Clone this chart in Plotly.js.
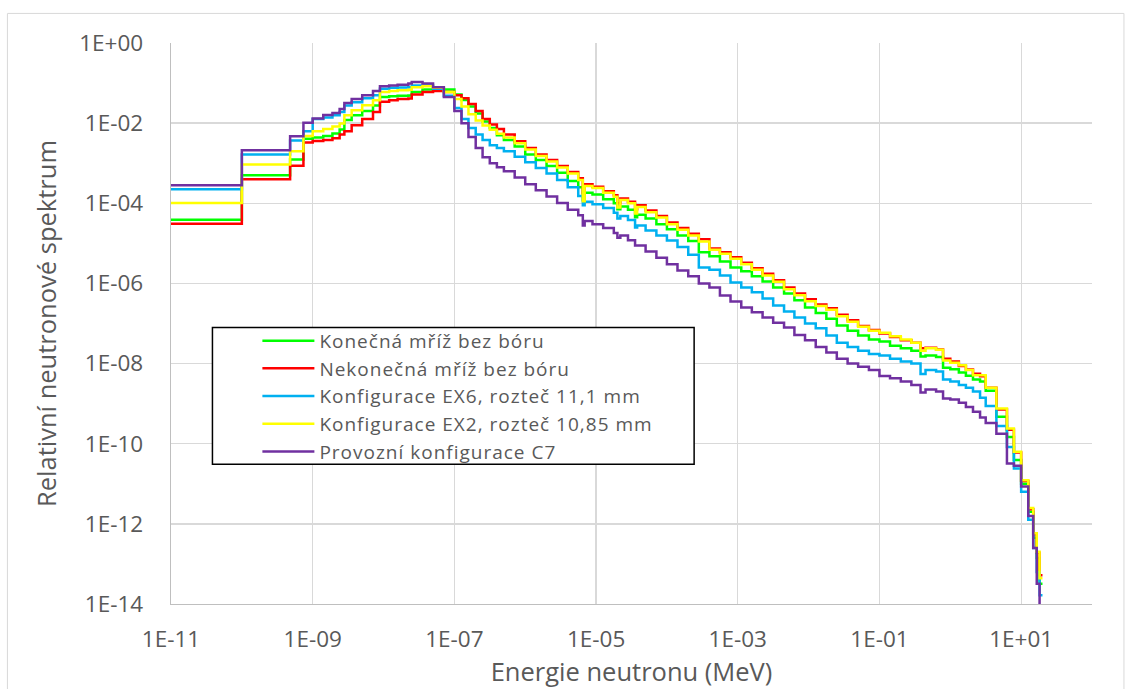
<!DOCTYPE html>
<html>
<head>
<meta charset="utf-8">
<script src="https://cdn.plot.ly/plotly-3.0.1.min.js"></script>
<style>html,body{margin:0;padding:0;background:#fff;}#chart{width:1131px;height:689px;}
.legendtext{letter-spacing:1px;}</style>
</head>
<body>
<div id="chart"></div>
<script>
// Energy group boundaries (MeV)
const energy = [1e-11,1e-10,4.8e-10,7.4e-10,1e-9,1.41e-9,1.9e-9,2.4e-9,2.8e-9,3.55e-9,
  5.0e-9,7.1e-9,8.9e-9,1.2e-8,1.58e-8,2.24e-8,2.5e-8,3.55e-8,5.0e-8,7.1e-8,
  1e-7,1.26e-7,1.58e-7,2.0e-7,2.5e-7,3.16e-7,3.98e-7,5.0e-7,7.1e-7,1e-6,
  1.41e-6,2.0e-6,2.82e-6,3.98e-6,5.6e-6,6.5e-6,6.9e-6,8.9e-6,1.26e-5,1.78e-5,
  2.0e-5,2.2e-5,2.82e-5,3.55e-5,3.8e-5,5.0e-5,7.1e-5,1e-4,1.41e-4,2.0e-4,
  2.82e-4,3.98e-4,5.6e-4,7.9e-4,1.12e-3,1.58e-3,2.24e-3,3.16e-3,4.5e-3,6.3e-3,
  8.9e-3,1.26e-2,1.78e-2,2.5e-2,3.55e-2,5.0e-2,7.1e-2,0.1,0.141,0.2,
  0.282,0.38,0.447,0.63,0.79,1,1.32,1.66,2.09,2.63,
  3.16,4.47,6.3,7.9,10,12.6,14.8,16.6,18.2,20];

const konecna = [3.9e-5,5.0e-4,1.23e-3,4.1e-3,4.4e-3,4.8e-3,5.5e-3,6.9e-3,1.2e-2,1.58e-2,
  2.0e-2,2.75e-2,4.5e-2,4.7e-2,4.8e-2,4.9e-2,6.0e-2,6.9e-2,7.2e-2,6.9e-2,
  5.2e-2,3.8e-2,2.6e-2,1.74e-2,1.1e-2,7.6e-3,5.0e-3,3.8e-3,2.6e-3,1.66e-3,
  1.2e-3,8.5e-4,5.8e-4,3.6e-4,2.5e-4,1.2e-4,1.82e-4,1.66e-4,1.26e-4,1.0e-4,
  7.1e-5,8.3e-5,6.9e-5,4.5e-5,5.2e-5,4.2e-5,3.0e-5,2.24e-5,1.58e-5,1.15e-5,
  6.0e-6,4.8e-6,3.55e-6,2.5e-6,2.0e-6,1.51e-6,1.12e-6,7.9e-7,5.6e-7,3.8e-7,
  2.5e-7,1.82e-7,1.32e-7,8.9e-8,6.6e-8,5.0e-8,4.0e-8,3.55e-8,2.8e-8,2.4e-8,
  2.1e-8,1.51e-8,1.58e-8,1.45e-8,7.9e-9,7.2e-9,6.0e-9,5.0e-9,4.0e-9,3.55e-9,
  2.1e-9,4.7e-10,1.48e-10,3.9e-11,1.0e-11,2.0e-12,4.5e-13,1.41e-13,3.2e-14,3.2e-14];

const nekonecna = [3.1e-5,4.0e-4,8.7e-4,3.3e-3,3.6e-3,3.8e-3,4.2e-3,5.2e-3,6.3e-3,8.9e-3,
  1.26e-2,1.9e-2,3.4e-2,3.7e-2,4.0e-2,4.1e-2,5.2e-2,6.0e-2,6.3e-2,6.0e-2,
  5.0e-2,4.2e-2,3.0e-2,2.0e-2,1.26e-2,9.3e-3,7.1e-3,5.2e-3,3.55e-3,2.4e-3,
  1.66e-3,1.2e-3,8.5e-4,6.0e-4,4.2e-4,1.78e-4,3.0e-4,2.6e-4,2.0e-4,1.58e-4,
  1.0e-4,1.32e-4,1.1e-4,7.1e-5,8.9e-5,6.6e-5,4.8e-5,3.3e-5,2.4e-5,1.74e-5,
  1.26e-5,7.4e-6,6.0e-6,4.5e-6,3.3e-6,2.4e-6,1.74e-6,1.2e-6,7.9e-7,5.6e-7,
  4.0e-7,3.0e-7,2.4e-7,1.66e-7,1.2e-7,8.7e-8,6.9e-8,5.6e-8,4.6e-8,3.8e-8,
  3.3e-8,2.4e-8,2.5e-8,2.24e-8,1.32e-8,1.12e-8,8.7e-9,7.1e-9,5.6e-9,4.8e-9,
  2.5e-9,7.1e-10,2.24e-10,6.0e-11,1.17e-11,2.3e-12,5.5e-13,1.9e-13,5.2e-14,5.2e-14];

const ex6 = [2.24e-4,1.66e-3,3.7e-3,6.3e-3,1.26e-2,1.38e-2,1.58e-2,1.9e-2,2.75e-2,3.3e-2,
  4.2e-2,5.0e-2,7.2e-2,7.6e-2,7.8e-2,7.9e-2,8.7e-2,8.7e-2,7.2e-2,4.8e-2,
  2.4e-2,1.26e-2,7.6e-3,5.2e-3,3.8e-3,2.8e-3,2.4e-3,2.0e-3,1.45e-3,1.05e-3,
  7.6e-4,5.5e-4,3.8e-4,2.5e-4,1.51e-4,8.9e-5,1.1e-4,9.5e-5,7.6e-5,5.8e-5,
  4.2e-5,4.8e-5,3.8e-5,2.5e-5,2.8e-5,2.1e-5,1.58e-5,1.17e-5,8.1e-6,5.2e-6,
  2.5e-6,2.2e-6,1.58e-6,1.05e-6,7.9e-7,6.0e-7,4.2e-7,2.8e-7,2.0e-7,1.41e-7,
  1.0e-7,7.6e-8,5.0e-8,3.3e-8,2.6e-8,2.1e-8,1.74e-8,1.58e-8,1.32e-8,1.12e-8,
  1.0e-8,5.5e-9,6.9e-9,6.3e-9,4.0e-9,3.55e-9,2.9e-9,2.5e-9,2.0e-9,1.41e-9,
  8.7e-10,2.75e-10,8.3e-11,2.4e-11,6.3e-12,1.26e-12,2.5e-13,6.3e-14,1.66e-14,1.66e-14];

const ex2 = [1.02e-4,9.3e-4,2.0e-3,4.8e-3,6.3e-3,7.1e-3,8.3e-3,9.8e-3,1.58e-2,2.1e-2,
  2.8e-2,3.7e-2,6.0e-2,6.3e-2,6.6e-2,6.8e-2,7.9e-2,8.3e-2,7.6e-2,6.0e-2,
  4.0e-2,2.6e-2,1.66e-2,1.17e-2,8.7e-3,6.8e-3,5.4e-3,4.4e-3,3.16e-3,2.2e-3,
  1.51e-3,1.1e-3,7.8e-4,5.5e-4,3.8e-4,1.12e-4,2.7e-4,2.4e-4,1.82e-4,1.45e-4,
  7.9e-5,1.2e-4,1.0e-4,5.6e-5,8.1e-5,6.0e-5,4.4e-5,3.0e-5,2.2e-5,1.58e-5,
  1.12e-5,6.9e-6,5.5e-6,4.1e-6,3.0e-6,2.2e-6,1.58e-6,1.1e-6,7.2e-7,5.1e-7,
  3.6e-7,2.75e-7,2.2e-7,1.51e-7,1.1e-7,8.3e-8,6.6e-8,5.9e-8,4.8e-8,4.0e-8,
  3.3e-8,2.1e-8,2.4e-8,2.2e-8,1.2e-8,1.05e-8,9.1e-9,6.9e-9,5.1e-9,5.1e-9,
  2.5e-9,7.6e-10,2.4e-10,6.3e-11,1.23e-11,2.5e-12,5.8e-13,2.0e-13,4.4e-14,4.4e-14];

const c7 = [2.8e-4,2.1e-3,4.7e-3,1.02e-2,1.3e-2,1.6e-2,1.78e-2,2.24e-2,3.16e-2,3.98e-2,
  5.0e-2,6.3e-2,8.3e-2,8.7e-2,9.1e-2,9.8e-2,0.107,9.8e-2,7.9e-2,4.5e-2,
  2.0e-2,1.0e-2,4.5e-3,2.4e-3,1.41e-3,1.0e-3,7.9e-4,6.3e-4,4.4e-4,3.0e-4,
  2.1e-4,1.48e-4,1.02e-4,6.9e-5,5.0e-5,2.8e-5,3.6e-5,3.0e-5,2.4e-5,1.82e-5,
  1.38e-5,1.58e-5,1.2e-5,8.9e-6,8.9e-6,6.3e-6,4.4e-6,3.0e-6,2.1e-6,1.51e-6,
  1.0e-6,7.9e-7,5.0e-7,3.55e-7,2.5e-7,1.9e-7,1.41e-7,1.05e-7,7.9e-8,5.2e-8,
  3.8e-8,2.6e-8,1.9e-8,1.32e-8,1.0e-8,8.3e-9,6.9e-9,4.9e-9,4.3e-9,3.55e-9,
  2.9e-9,1.9e-9,2.24e-9,2.0e-9,1.35e-9,1.26e-9,1.05e-9,8.3e-10,6.3e-10,4.5e-10,
  3.3e-10,1.78e-10,3.2e-11,2.8e-11,8.5e-12,1.58e-12,2.5e-13,3.2e-14,7.9e-15,7.9e-15];

const seriesNames = ["Konečná mříž bez bóru","Nekonečná mříž bez bóru",
  "Konfigurace EX6, rozteč 11,1 mm","Konfigurace EX2, rozteč 10,85 mm","Provozní konfigurace C7"];
const seriesColors = ["#00FF00","#FF0000","#00B0F0","#FFFF00","#7030A0"];
const seriesValues = [konecna, nekonecna, ex6, ex2, c7];

const xTickVals = [1e-11,1e-9,1e-7,1e-5,1e-3,1e-1,1e1];
const xTickText = ["1E-11","1E-09","1E-07","1E-05","1E-03","1E-01","1E+01"];
const yTickVals = [1e-14,1e-12,1e-10,1e-8,1e-6,1e-4,1e-2,1];
const yTickText = ["1E-14","1E-12","1E-10","1E-08","1E-06","1E-04","1E-02","1E+00"];

const font = "'Open Sans', 'Noto Sans', sans-serif";
const traces = seriesValues.map((vals, i) => ({
  type: "scatter", mode: "lines", x: energy, y: vals, name: seriesNames[i],
  legendgroup: "g" + i,
  line: {color: seriesColors[i], width: 2.5, shape: "hv"},
  hoverinfo: "x+y+name"
}));

const layout = {
  width: 1131, height: 689,
  margin: {l: 171, r: 39, t: 43, b: 85},
  paper_bgcolor: "#ffffff", plot_bgcolor: "#ffffff",
  font: {family: font, color: "#595959"},
  showlegend: true,
  legend: {
    x: 0.0938, y: 0.503, xanchor: "left", yanchor: "top",
    bgcolor: "rgba(0,0,0,0)", borderwidth: 0,
    font: {family: font, size: 19, color: "#595959"},
    itemwidth: 52, tracegroupgap: 0
  },
  xaxis: {
    type: "log", range: [-11, 2], tickmode: "array",
    tickvals: xTickVals, ticktext: xTickText,
    showgrid: true, gridcolor: "#D9D9D9", gridwidth: 1.3,
    showline: true, linecolor: "#BFBFBF", linewidth: 1.3,
    ticks: "", zeroline: false, ticklabelstandoff: 15,
    tickfont: {family: font, size: 22.5, color: "#595959"},
    title: {text: "Energie neutronu (MeV)", font: {family: font, size: 25.5, color: "#595959"}, standoff: 0}
  },
  yaxis: {
    type: "log", range: [-14, 0], tickmode: "array",
    tickvals: yTickVals, ticktext: yTickText,
    showgrid: true, gridcolor: "#D9D9D9", gridwidth: 1.3,
    showline: true, linecolor: "#BFBFBF", linewidth: 1.3,
    ticks: "", zeroline: false, ticklabelstandoff: 22,
    tickfont: {family: font, size: 22.5, color: "#595959"},
    title: {text: "Relativní neutronové spektrum", font: {family: font, size: 25.5, color: "#595959"}, standoff: 15}
  },
  shapes: [
    {type: "rect", xref: "paper", yref: "paper", x0: -0.1776, x1: 1.0347, y0: -0.2, y1: 1.0527,
     line: {color: "#D9D9D9", width: 1}, fillcolor: "rgba(0,0,0,0)", layer: "below"},
    {type: "rect", xref: "paper", yref: "paper", x0: 0.045, x1: 0.568, y0: 0.249, y1: 0.493,
     line: {color: "#000000", width: 1.5}, fillcolor: "#ffffff", layer: "above"}
  ]
};

Plotly.newPlot("chart", traces, layout, {displayModeBar: false, staticPlot: true});
</script>
</body>
</html>
